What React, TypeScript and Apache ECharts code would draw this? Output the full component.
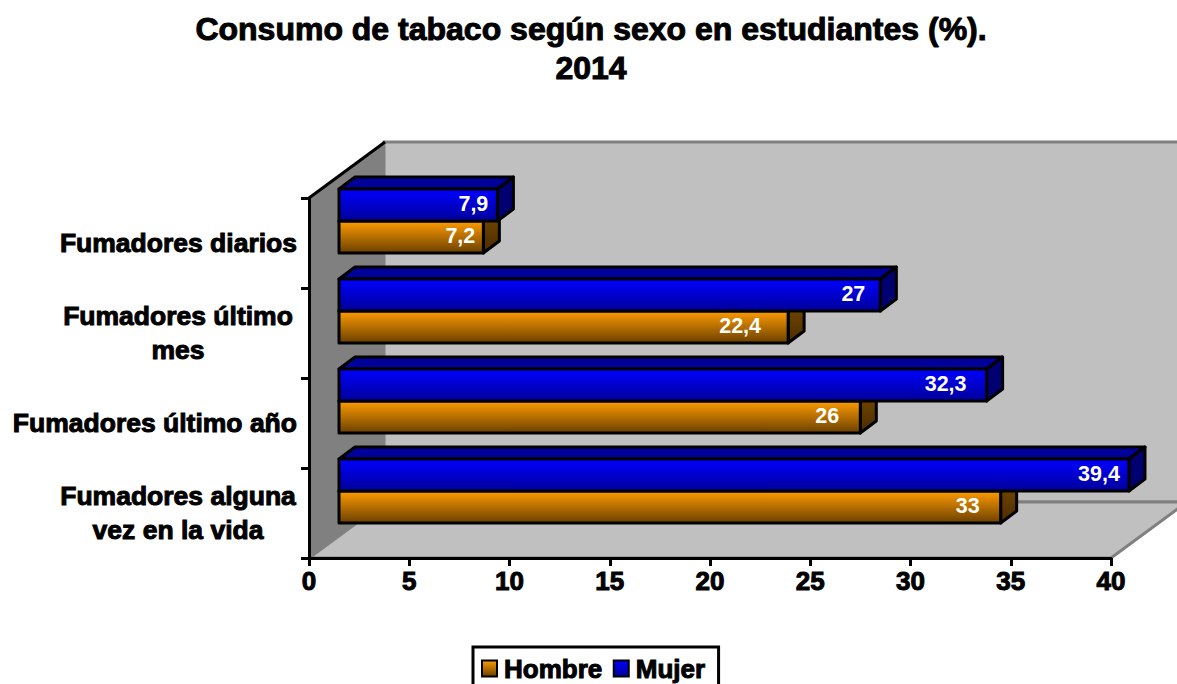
import React, { useEffect, useRef } from "react";
import * as echarts from "echarts";

const categories = ["Fumadores diarios", "Fumadores último mes", "Fumadores último año", "Fumadores alguna vez en la vida"];
const axisLabels = [
  "Fumadores diarios",
  "{c|Fumadores último}\n{c|mes}",
  "Fumadores último año",
  "{c|Fumadores alguna}\n{c|vez en la vida}",
];
const hombre = [7.2, 22.4, 26, 33];
const mujer = [7.9, 27, 32.3, 39.4];
const hombreLabels = ["7,2", "22,4", "26", "33"];
const mujerLabels = ["7,9", "27", "32,3", "39,4"];
const xTicks = [0, 5, 10, 15, 20, 25, 30, 35, 40];

// label placement: distance of the label centre from the bar's end (px)
const hombreInset = [23, 48, 33, 33];
const mujerInset = [24, 27, 41, 30];

const FONT = '"Liberation Sans", Arial, sans-serif';
const LEFT = 309, RIGHT = 1111, TOP = 198, BOTTOM = 558;
const WALL_DX = 76, WALL_DY = -56;
const BAR_DX = 30, BAR_DY = -22, BAR_H = 32, DEPTH_X = 16, DEPTH_Y = -12;
const HEAVY = { textBorderColor: "#000", textBorderWidth: 1 };

const vGrad = (a: string, b: string) =>
  new echarts.graphic.LinearGradient(0, 0, 0, 1, [
    { offset: 0, color: a },
    { offset: 1, color: b },
  ]);

const barRenderer = (
  isMujer: boolean,
  labels: string[],
  insets: number[],
  front: any,
  top: string,
  side: any
) => (params: any, api: any) => {
  const i = api.value(1);
  const end = api.coord([api.value(0), i]);
  const start = api.coord([0, i]);
  const x0 = start[0] + BAR_DX;
  const x1 = end[0] + BAR_DX;
  const cy = start[1] + BAR_DY;
  const y0 = isMujer ? cy - BAR_H : cy;
  const y1 = y0 + BAR_H;
  const line = { stroke: "#000", lineWidth: 3, lineJoin: "round" };
  return {
    type: "group",
    children: [
      {
        type: "polygon",
        shape: { points: [[x0, y0], [x0 + DEPTH_X, y0 + DEPTH_Y], [x1 + DEPTH_X, y0 + DEPTH_Y], [x1, y0]] },
        style: { fill: top, ...line },
      },
      {
        type: "polygon",
        shape: { points: [[x1, y0], [x1 + DEPTH_X, y0 + DEPTH_Y], [x1 + DEPTH_X, y1 + DEPTH_Y], [x1, y1]] },
        style: { fill: side, ...line },
      },
      {
        type: "rect",
        shape: { x: x0, y: y0, width: x1 - x0, height: BAR_H },
        style: { fill: front, ...line },
      },
      {
        type: "text",
        style: {
          text: labels[i],
          x: x1 - insets[i],
          y: (y0 + y1) / 2 - 1,
          textAlign: "center",
          textVerticalAlign: "middle",
          fill: "#fff",
          font: `bold 21.5px ${FONT}`,
        },
      },
    ],
  };
};

export default function App() {
  const ref = useRef<HTMLDivElement>(null);
  useEffect(() => {
    const chart = echarts.init(ref.current!, undefined, { renderer: "svg" });
    const orange = vGrad("#ff9c00", "#6b4000");
    const blue = vGrad("#0000ff", "#00009a");
    chart.setOption({
      animation: false,
      backgroundColor: "#fff",
      title: {
        text: "Consumo de tabaco según sexo en estudiantes (%).\n2014",
        left: 586,
        top: 4,
        textAlign: "center",
        textStyle: {
          fontFamily: FONT,
          fontWeight: "bold",
          fontSize: 32,
          lineHeight: 39,
          color: "#000",
          ...HEAVY,
        },
      },
      legend: {
        left: 473,
        top: 647,
        orient: "horizontal",
        padding: [8, 13, 9, 8],
        itemGap: 10,
        itemWidth: 15,
        itemHeight: 16,
        borderColor: "#000",
        borderWidth: 3,
        backgroundColor: "#fff",
        icon: "rect",
        data: [
          { name: "Hombre", itemStyle: { color: orange, borderColor: "#000", borderWidth: 2 } },
          { name: "Mujer", itemStyle: { color: blue, borderColor: "#000", borderWidth: 2 } },
        ],
        textStyle: {
          fontFamily: FONT,
          fontWeight: "bold",
          fontSize: 26,
          color: "#000",
          padding: [0, 0, 0, 2],
          ...HEAVY,
        },
      },
      grid: { left: LEFT, top: TOP, width: RIGHT - LEFT, height: BOTTOM - TOP, containLabel: false },
      xAxis: {
        type: "value",
        min: xTicks[0],
        max: xTicks[xTicks.length - 1],
        interval: 5,
        splitLine: { show: false },
        axisLine: { show: true, lineStyle: { color: "#000", width: 3 } },
        axisTick: { show: true, length: 8, lineStyle: { color: "#000", width: 3 } },
        axisLabel: {
          margin: 10,
          fontFamily: FONT,
          fontWeight: "bold",
          fontSize: 26,
          color: "#000",
          ...HEAVY,
        },
      },
      yAxis: {
        type: "category",
        inverse: true,
        data: categories,
        axisLine: { show: true, onZero: false, lineStyle: { color: "#000", width: 3 } },
        axisTick: { show: true, length: 8, lineStyle: { color: "#000", width: 3 } },
        axisLabel: {
          margin: 12,
          formatter: (_: string, idx: number) => axisLabels[idx],
          fontFamily: FONT,
          fontWeight: "bold",
          fontSize: 26.5,
          lineHeight: 34,
          color: "#000",
          ...HEAVY,
          rich: {
            c: {
              width: 238,
              align: "center",
              fontFamily: FONT,
              fontWeight: "bold",
              fontSize: 26.5,
              lineHeight: 34,
              color: "#000",
              ...HEAVY,
            },
          },
        },
      },
      graphic: [
        {
          type: "rect",
          z: -10,
          shape: { x: LEFT + WALL_DX - 1, y: TOP + WALL_DY, width: 900, height: BOTTOM - TOP },
          style: { fill: "#c0c0c0", stroke: "#808080", lineWidth: 3 },
        },
        {
          type: "polygon",
          z: -9,
          shape: {
            points: [
              [LEFT, BOTTOM],
              [LEFT + WALL_DX, BOTTOM + WALL_DY],
              [RIGHT + WALL_DX, BOTTOM + WALL_DY],
              [RIGHT, BOTTOM],
            ],
          },
          style: { fill: "#c0c0c0", stroke: "#808080", lineWidth: 3 },
        },
        {
          type: "polygon",
          z: -8,
          shape: {
            points: [
              [LEFT, TOP],
              [LEFT + WALL_DX - 1, TOP + WALL_DY],
              [LEFT + WALL_DX - 1, BOTTOM + WALL_DY],
              [LEFT, BOTTOM],
            ],
          },
          style: { fill: "#808080" },
        },
        {
          type: "line",
          z: -7,
          shape: { x1: LEFT, y1: TOP, x2: LEFT + WALL_DX, y2: TOP + WALL_DY },
          style: { stroke: "#000", lineWidth: 3 },
        },
      ],
      series: [
        {
          type: "custom",
          name: "Hombre",
          z: 3,
          clip: false,
          encode: { x: 0, y: 1 },
          itemStyle: { color: orange },
          data: hombre.map((v, i) => [v, i]),
          renderItem: barRenderer(false, hombreLabels, hombreInset, orange, "#7a4a00", vGrad("#7a4a00", "#4a2c00")),
        },
        {
          type: "custom",
          name: "Mujer",
          z: 4,
          clip: false,
          encode: { x: 0, y: 1 },
          itemStyle: { color: blue },
          data: mujer.map((v, i) => [v, i]),
          renderItem: barRenderer(true, mujerLabels, mujerInset, blue, "#00009a", "#000070"),
        },
      ],
    });
    return () => chart.dispose();
  }, []);
  return <div ref={ref} style={{ position: "absolute", left: 0, top: 0, width: 1177, height: 684, overflow: "hidden" }} />;
}
